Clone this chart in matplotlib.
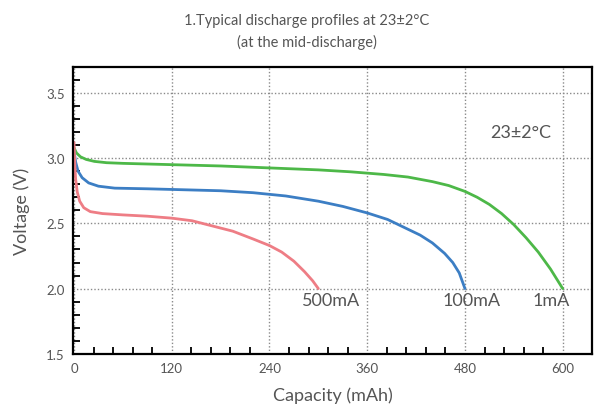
import matplotlib
matplotlib.use("Agg")
import matplotlib.pyplot as plt
from matplotlib.ticker import FixedLocator

# capacity (mAh) / voltage (V)
cap_500 = [0, 1, 2, 4, 7, 12, 20, 35, 60, 90, 120, 145, 170, 195, 220, 240, 255, 270, 283, 293, 300]
v_500 = [3.12, 2.95, 2.84, 2.74, 2.67, 2.62, 2.59, 2.575, 2.565, 2.555, 2.54, 2.52, 2.48, 2.44,
         2.38, 2.33, 2.28, 2.21, 2.13, 2.06, 2.0]

cap_100 = [0, 2, 5, 10, 18, 30, 50, 90, 120, 180, 220, 260, 300, 330, 360, 385, 405, 425, 440,
           455, 465, 473, 480]
v_100 = [3.06, 2.97, 2.9, 2.85, 2.81, 2.785, 2.77, 2.765, 2.76, 2.75, 2.735, 2.71, 2.67, 2.63,
         2.58, 2.53, 2.47, 2.41, 2.35, 2.27, 2.2, 2.12, 2.0]

cap_1 = [0, 3, 8, 15, 25, 40, 60, 120, 180, 240, 300, 340, 380, 410, 440, 460, 480, 495, 510,
         525, 540, 555, 570, 585, 600]
v_1 = [3.08, 3.04, 3.01, 2.99, 2.975, 2.965, 2.96, 2.95, 2.94, 2.925, 2.91, 2.895, 2.875, 2.855,
       2.82, 2.79, 2.745, 2.70, 2.645, 2.575, 2.49, 2.39, 2.28, 2.15, 2.0]

x_ticks = [0, 120, 240, 360, 480, 600]
y_ticks = [1.5, 2.0, 2.5, 3.0, 3.5]

GREY = "#555555"
plt.rcParams["font.family"] = ["Lato", "DejaVu Sans"]

fig = plt.figure(figsize=(5.95, 4.06), dpi=100)
ax = fig.add_axes([0.123, 0.126, 0.872, 0.707])

ax.plot(cap_1, v_1, color="#4db848", lw=2.0, solid_capstyle="round")
ax.plot(cap_100, v_100, color="#3c7ec4", lw=2.0, solid_capstyle="round")
ax.plot(cap_500, v_500, color="#ee7d85", lw=2.0, solid_capstyle="round")

ax.set_xlim(-1, 636)
ax.set_ylim(1.5, 3.7)
ax.set_xticks(x_ticks)
ax.set_yticks(y_ticks)
ax.set_yticklabels([f"{v:.1f}" for v in y_ticks])
ax.xaxis.set_minor_locator(FixedLocator([v for v in range(24, 601, 24) if v % 120]))
ax.yaxis.set_minor_locator(FixedLocator([1.5 + 0.1 * i for i in range(1, 22) if i % 5]))
ax.tick_params(which="both", direction="in", colors="black", labelcolor=GREY,
               labelsize=9.5, width=1.3)
ax.tick_params(which="major", length=0, pad=6)
ax.tick_params(which="minor", length=5)
ax.tick_params(top=False, right=False)

ax.grid(True, which="major", color="#8a8a8a", linestyle=(0, (1, 1.5)), lw=1.0)
for s in ax.spines.values():
    s.set_linewidth(1.6)

ax.set_xlabel("Capacity (mAh)", fontsize=13, color=GREY, labelpad=9)
ax.set_ylabel("Voltage (V)", fontsize=13, color=GREY, labelpad=12)

ax.text(316, 1.91, "500mA", fontsize=13, color=GREY, ha="center", va="center")
ax.text(488, 1.91, "100mA", fontsize=13, color=GREY, ha="center", va="center")
ax.text(586, 1.91, "1mA", fontsize=13, color=GREY, ha="center", va="center")
ax.text(549, 3.2, "23±2°C", fontsize=13, color=GREY, ha="center", va="center")

fig.text(0.516, 0.948, "1.Typical discharge profiles at 23±2°C", fontsize=10.5,
         color=GREY, ha="center", va="center")
fig.text(0.516, 0.895, "(at the mid-discharge)", fontsize=10.5,
         color=GREY, ha="center", va="center")

fig.savefig("out.png", dpi=100)
